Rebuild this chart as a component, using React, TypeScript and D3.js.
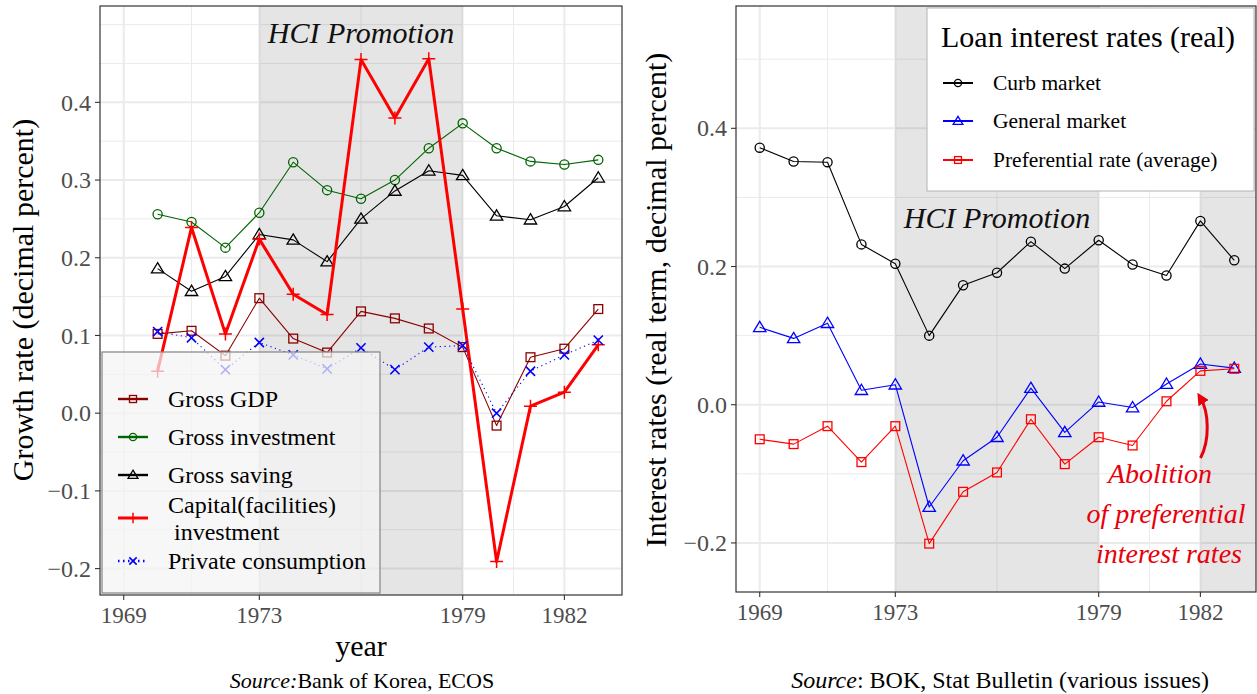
import * as d3 from "d3";

const FONT = '"Liberation Serif", "Times New Roman", serif';

// left panel: growth rates, 1970-1983
const yearsL = [1970, 1971, 1972, 1973, 1974, 1975, 1976, 1977, 1978, 1979, 1980, 1981, 1982, 1983];
const grossGDP = [0.102, 0.106, 0.074, 0.148, 0.096, 0.078, 0.131, 0.122, 0.109, 0.085, -0.016, 0.072, 0.083, 0.134];
const grossInvestment = [0.256, 0.246, 0.213, 0.258, 0.323, 0.287, 0.276, 0.3, 0.341, 0.373, 0.341, 0.324, 0.32, 0.326];
const grossSaving = [0.186, 0.157, 0.176, 0.23, 0.223, 0.195, 0.25, 0.286, 0.312, 0.306, 0.254, 0.249, 0.266, 0.303];
const capitalInvestment = [0.054, 0.239, 0.102, 0.224, 0.153, 0.127, 0.455, 0.38, 0.456, 0.134, -0.191, 0.009, 0.027, 0.088];
const privateConsumption = [0.105, 0.097, 0.056, 0.091, 0.075, 0.057, 0.084, 0.056, 0.085, 0.087, 0.0, 0.054, 0.075, 0.094];

// right panel: real loan interest rates, 1969-1983
const yearsR = [1969, 1970, 1971, 1972, 1973, 1974, 1975, 1976, 1977, 1978, 1979, 1980, 1981, 1982, 1983];
const curbMarket = [0.372, 0.352, 0.351, 0.232, 0.204, 0.1, 0.173, 0.191, 0.236, 0.197, 0.238, 0.203, 0.187, 0.266, 0.209];
const generalMarket = [0.112, 0.096, 0.118, 0.021, 0.029, -0.148, -0.081, -0.047, 0.024, -0.04, 0.004, -0.004, 0.03, 0.059, 0.053];
const preferentialRate = [-0.05, -0.057, -0.031, -0.083, -0.031, -0.201, -0.126, -0.098, -0.021, -0.086, -0.047, -0.059, 0.005, 0.049, 0.052];

const xBreaks = [1969, 1973, 1979, 1982];
const xMinor = [1971, 1976, 1980.5];
const yBreaksL = [-0.2, -0.1, 0, 0.1, 0.2, 0.3, 0.4];
const yMinorL = [-0.15, -0.05, 0.05, 0.15, 0.25, 0.35, 0.45, 0.5];
const yBreaksR = [-0.2, 0, 0.2, 0.4];
const yMinorR = [-0.1, 0.1, 0.3, 0.5];

type Shape = "square" | "circle" | "triangle" | "plus" | "cross";

const leftSeries = [
  { name: ["Gross GDP"], values: grossGDP, color: "#8B0000", shape: "square" as Shape, width: 1.1, dash: "" },
  { name: ["Gross investment"], values: grossInvestment, color: "#006400", shape: "circle" as Shape, width: 1.1, dash: "" },
  { name: ["Gross saving"], values: grossSaving, color: "#000000", shape: "triangle" as Shape, width: 1.1, dash: "" },
  { name: ["Capital(facilities)", "\u00a0investment"], values: capitalInvestment, color: "#FF0000", shape: "plus" as Shape, width: 3, dash: "" },
  { name: ["Private consumption"], values: privateConsumption, color: "#0000FF", shape: "cross" as Shape, width: 1.1, dash: "1.2,3.5" },
];

const rightSeries = [
  { name: "Curb market", values: curbMarket, color: "#000000", shape: "circle" as Shape },
  { name: "General market", values: generalMarket, color: "#0000FF", shape: "triangle" as Shape },
  { name: "Preferential rate (average)", values: preferentialRate, color: "#FF0000", shape: "square" as Shape },
];

function Marker({ shape, x, y, color, s = 1 }: { shape: Shape; x: number; y: number; color: string; s?: number }) {
  const sw = 1.3;
  if (shape === "circle") return <circle cx={x} cy={y} r={4.6 * s} fill="none" stroke={color} strokeWidth={sw} />;
  if (shape === "square")
    return <rect x={x - 4.4 * s} y={y - 4.4 * s} width={8.8 * s} height={8.8 * s} fill="none" stroke={color} strokeWidth={sw} />;
  if (shape === "triangle")
    return (
      <path
        d={`M${x},${y - 6 * s}L${x + 6.2 * s},${y + 4.3 * s}L${x - 6.2 * s},${y + 4.3 * s}Z`}
        fill="none"
        stroke={color}
        strokeWidth={sw}
      />
    );
  if (shape === "plus")
    return <path d={`M${x - 6.5 * s},${y}H${x + 6.5 * s}M${x},${y - 6.5 * s}V${y + 6.5 * s}`} stroke={color} strokeWidth={1.5} />;
  return (
    <path
      d={`M${x - 4.6 * s},${y - 4.6 * s}L${x + 4.6 * s},${y + 4.6 * s}M${x - 4.6 * s},${y + 4.6 * s}L${x + 4.6 * s},${y - 4.6 * s}`}
      stroke={color}
      strokeWidth={1.6}
    />
  );
}

function Panel({
  x,
  y,
  left,
  right,
  top,
  bottom,
  yBreaks,
  yMinor,
  shades,
  clipId,
  children,
}: any) {
  return (
    <g>
      <defs>
        <clipPath id={clipId}>
          <rect x={left} y={top} width={right - left} height={bottom - top} />
        </clipPath>
      </defs>
      <rect x={left} y={top} width={right - left} height={bottom - top} fill="#fff" />
      <g clipPath={`url(#${clipId})`}>
        {yMinor.map((v: number) => (
          <line key={"ym" + v} x1={left} x2={right} y1={y(v)} y2={y(v)} stroke="#ebebeb" strokeWidth={1} />
        ))}
        {yBreaks.map((v: number) => (
          <line key={"yM" + v} x1={left} x2={right} y1={y(v)} y2={y(v)} stroke="#ebebeb" strokeWidth={2} />
        ))}
        {xMinor.map((v) => (
          <line key={"xm" + v} x1={x(v)} x2={x(v)} y1={top} y2={bottom} stroke="#ebebeb" strokeWidth={1} />
        ))}
        {xBreaks.map((v) => (
          <line key={"xM" + v} x1={x(v)} x2={x(v)} y1={top} y2={bottom} stroke="#ebebeb" strokeWidth={2} />
        ))}
        {shades.map((s: number[], i: number) => (
          <rect key={i} x={x(s[0])} y={top} width={x(s[1]) - x(s[0])} height={bottom - top} fill="#000" fillOpacity={0.1} />
        ))}
        {children}
      </g>
      <rect x={left} y={top} width={right - left} height={bottom - top} fill="none" stroke="#333" strokeWidth={1.2} />
      {yBreaks.map((v: number) => (
        <g key={"yt" + v}>
          <line x1={left - 5} x2={left} y1={y(v)} y2={y(v)} stroke="#333" strokeWidth={1.1} />
          <text x={left - 9} y={y(v)} dy="0.34em" textAnchor="end" fontSize={24} fill="#4d4d4d" fontFamily={FONT}>
            {v === 0 ? "0.0" : v < 0 ? "\u2212" + Math.abs(v).toFixed(1) : v.toFixed(1)}
          </text>
        </g>
      ))}
      {xBreaks.map((v) => (
        <g key={"xt" + v}>
          <line x1={x(v)} x2={x(v)} y1={bottom} y2={bottom + 5} stroke="#333" strokeWidth={1.1} />
          <text x={x(v)} y={bottom + 28} textAnchor="middle" fontSize={23} fill="#4d4d4d" fontFamily={FONT}>
            {v}
          </text>
        </g>
      ))}
    </g>
  );
}

export default function App() {
  const domain: [number, number] = [1968.3, 1983.7];
  const xL = d3.scaleLinear().domain(domain).range([100, 622]);
  const yL = d3.scaleLinear().domain([-0.234, 0.524]).range([595, 6]);
  const xR = d3.scaleLinear().domain(domain).range([736, 1258]);
  const yR = d3.scaleLinear().domain([-0.271, 0.577]).range([592, 6]);

  const lineL = (vals: number[]) =>
    d3.line<number>().x((_, i) => xL(yearsL[i])).y((d) => yL(d))(vals) as string;
  const lineR = (vals: number[]) =>
    d3.line<number>().x((_, i) => xR(yearsR[i])).y((d) => yR(d))(vals) as string;

  const legendL = [399, 437, 475, 518, 561];
  const legendR = [83, 121, 160];

  return (
    <svg
      width={1257}
      height={694}
      style={{ position: "absolute", left: 0, top: 0, background: "#fff", fontFamily: FONT }}
    >
      <defs>
        <marker id="arrowHead" viewBox="0 0 10 10" refX="5" refY="5" markerWidth="4" markerHeight="4" orient="auto">
          <path d="M0,0L10,5L0,10Z" fill="#e8000b" />
        </marker>
      </defs>

      {/* left panel */}
      <Panel
        x={xL}
        y={yL}
        left={100}
        right={622}
        top={6}
        bottom={595}
        yBreaks={yBreaksL}
        yMinor={yMinorL}
        shades={[[1973, 1979]]}
        clipId="clipL"
      >
        <text x={xL(1976)} y={43} textAnchor="middle" fontSize={30} fontStyle="italic" fill="#111">
          HCI Promotion
        </text>
        {leftSeries.map((s) => (
          <g key={s.name[0]}>
            <path d={lineL(s.values)} fill="none" stroke={s.color} strokeWidth={s.width} strokeDasharray={s.dash} strokeLinejoin="round" />
            {s.values.map((v, i) => (
              <Marker key={i} shape={s.shape} x={xL(yearsL[i])} y={yL(v)} color={s.color} />
            ))}
          </g>
        ))}
        <rect x={102} y={352} width={278} height={241} fill="#f4f4f4" fillOpacity={0.72} stroke="#8c8c8c" strokeWidth={1.3} />
        {leftSeries.map((s, i) => (
          <g key={"lg" + i}>
            <line
              x1={118}
              x2={148}
              y1={legendL[i]}
              y2={legendL[i]}
              stroke={s.color}
              strokeWidth={s.width > 2 ? 3 : 2.4}
              strokeDasharray={s.dash ? "1.5,3.5" : ""}
            />
            <Marker shape={s.shape} x={133} y={legendL[i]} color={s.color} s={0.8} />
            {s.name.map((t, j) => (
              <text
                key={j}
                x={168}
                y={legendL[i] + 8 + (s.name.length > 1 ? (j - 0.5) * 27 : 0)}
                fontSize={24}
                fill="#000"
              >
                {t}
              </text>
            ))}
          </g>
        ))}
      </Panel>

      {/* right panel */}
      <Panel
        x={xR}
        y={yR}
        left={736}
        right={1256}
        top={6}
        bottom={592}
        yBreaks={yBreaksR}
        yMinor={yMinorR}
        shades={[
          [1973, 1979],
          [1982, 1984],
        ]}
        clipId="clipR"
      >
        <text x={xR(1976)} y={228} textAnchor="middle" fontSize={30} fontStyle="italic" fill="#111">
          HCI Promotion
        </text>
        {rightSeries.map((s) => (
          <g key={s.name}>
            <path d={lineR(s.values)} fill="none" stroke={s.color} strokeWidth={1.1} strokeLinejoin="round" />
            {s.values.map((v, i) => (
              <Marker key={i} shape={s.shape} x={xR(yearsR[i])} y={yR(v)} color={s.color} />
            ))}
          </g>
        ))}
        <g fill="#e8000b" fontSize={28} fontStyle="italic" textAnchor="middle">
          <text x={1160} y={483}>Abolition</text>
          <text x={1166} y={523}>of preferential</text>
          <text x={1169} y={563}>interest rates</text>
        </g>
        <path
          d="M1200.5,458 C1210,440 1209,412 1200.5,398"
          fill="none"
          stroke="#e8000b"
          strokeWidth={3}
          markerEnd="url(#arrowHead)"
        />
        <rect x={927} y={8} width={327} height={183} fill="#fff" stroke="#b3b3b3" strokeWidth={1} />
        <text x={941} y={47} fontSize={30} fill="#000">
          Loan interest rates (real)
        </text>
        {rightSeries.map((s, i) => (
          <g key={"rl" + i}>
            <line x1={943} x2={973} y1={legendR[i]} y2={legendR[i]} stroke={s.color} strokeWidth={2} />
            <Marker shape={s.shape} x={958} y={legendR[i]} color={s.color} s={0.78} />
            <text x={993} y={legendR[i] + 7} fontSize={21.5} fill="#000">
              {s.name}
            </text>
          </g>
        ))}
      </Panel>

      {/* titles */}
      <text transform="translate(33,300) rotate(-90)" textAnchor="middle" fontSize={30} fill="#000">
        Growth rate (decimal percent)
      </text>
      <text transform="translate(666,300) rotate(-90)" textAnchor="middle" fontSize={30} fill="#000">
        Interest rates (real term, decimal percent)
      </text>
      <text x={361} y={656} textAnchor="middle" fontSize={30} fill="#000">
        year
      </text>
      <text x={362} y={688} textAnchor="middle" fontSize={22} fill="#000">
        <tspan fontStyle="italic">Source:</tspan>Bank of Korea, ECOS
      </text>
      <text x={1000} y={688} textAnchor="middle" fontSize={24} fill="#000">
        <tspan fontStyle="italic">Source</tspan>: BOK, Stat Bulletin (various issues)
      </text>
    </svg>
  );
}
